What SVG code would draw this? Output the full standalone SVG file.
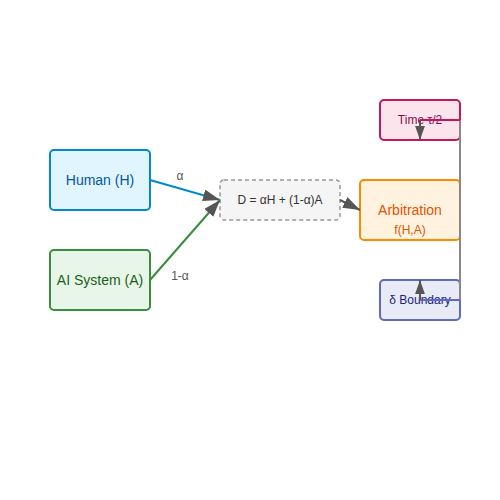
<svg xmlns="http://www.w3.org/2000/svg" width="500" height="500" viewBox="0 0 500 500">
<style>
text{font-family:"Liberation Sans",Arial,sans-serif;text-anchor:middle;dominant-baseline:central}
.n{stroke-width:2}
.lbl{font-size:12px;fill:#555}
</style>
<defs>
<marker id="ah" viewBox="0 0 10 7" refX="10" refY="3.5" markerUnits="userSpaceOnUse" markerWidth="17" markerHeight="12" orient="auto">
<path d="M0,0 L10,3.5 L0,7 Z" fill="#555"/>
</marker>
<marker id="as" viewBox="0 0 10 7" refX="10" refY="3.5" markerUnits="userSpaceOnUse" markerWidth="14" markerHeight="10" orient="auto">
<path d="M0,0 L10,3.5 L0,7 Z" fill="#555"/>
</marker>
</defs>
<rect width="500" height="500" fill="#fff"/>
<g id="human"><rect class="n" x="50" y="150" width="100" height="60" rx="4" fill="#e1f5fe" stroke="#0288d1"/><text x="100" y="180" font-size="14" fill="#01579b">Human (H)</text></g>
<g id="ai"><rect class="n" x="50" y="250" width="100" height="60" rx="4" fill="#e8f5e9" stroke="#388e3c"/><text x="100" y="280" font-size="14" fill="#1b5e20">AI System (A)</text></g>
<g id="decision"><rect x="220" y="180" width="120" height="40" rx="4" fill="#f5f5f5" stroke="#999" stroke-width="1.5" stroke-dasharray="4,3"/><text x="280" y="200" font-size="12" fill="#333">D = αH + (1-α)A</text></g>
<g id="arbitration"><rect class="n" x="360" y="180" width="100" height="60" rx="4" fill="#fff3e0" stroke="#fb8c00"/><text x="410" y="210" font-size="14" fill="#e65100">Arbitration</text><text x="410" y="230" font-size="12" fill="#e65100">f(H,A)</text></g>
<g id="time"><rect class="n" x="380" y="100" width="80" height="40" rx="4" fill="#fce4ec" stroke="#c2185b"/><text x="420" y="120" font-size="12" fill="#880e4f">Time τ/2</text></g>
<g id="boundary"><rect class="n" x="380" y="280" width="80" height="40" rx="4" fill="#e8eaf6" stroke="#5c6bc0"/><text x="420" y="300" font-size="12" fill="#1a237e">δ Boundary</text></g>
<g id="connectors" fill="none">
<line x1="150" y1="180" x2="220" y2="200" stroke="#0288d1" stroke-width="2" marker-end="url(#ah)"/>
<line x1="150" y1="280" x2="220" y2="200" stroke="#388e3c" stroke-width="2" marker-end="url(#ah)"/>
<line x1="340" y1="200" x2="360" y2="210" stroke="#555" stroke-width="2" marker-end="url(#ah)"/>
<line x1="460" y1="120" x2="460" y2="300" stroke="#888" stroke-width="2"/>
<line x1="420" y1="120" x2="460" y2="120" stroke="#c2185b" stroke-width="2"/>
<line x1="420" y1="300" x2="460" y2="300" stroke="#5c6bc0" stroke-width="2"/>
<line x1="420" y1="120" x2="420" y2="140" stroke="#555" stroke-width="2" marker-end="url(#as)"/>
<line x1="420" y1="300" x2="420" y2="280" stroke="#555" stroke-width="2" marker-end="url(#as)"/>
<text class="lbl" x="180" y="176">α</text>
<text class="lbl" x="180" y="276">1-α</text>
</g>
</svg>
